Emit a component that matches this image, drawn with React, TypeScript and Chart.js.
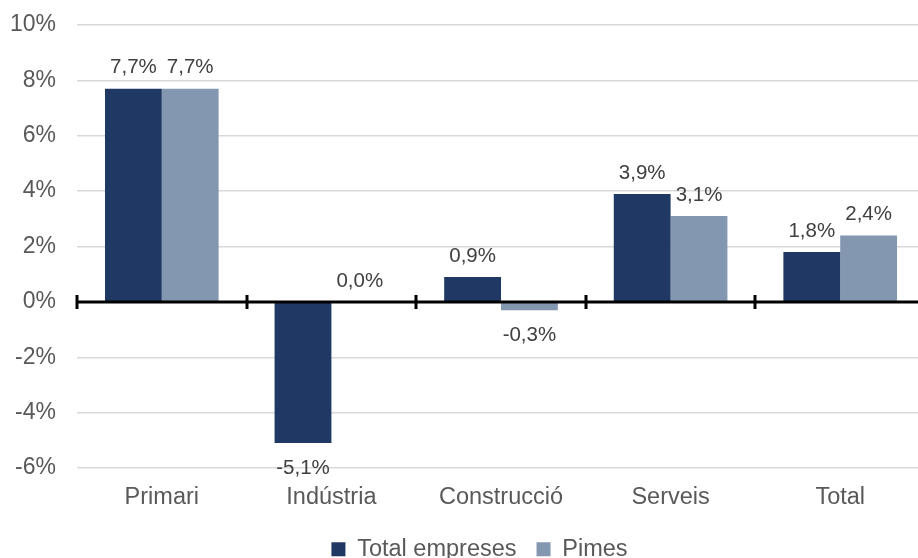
import React, { useEffect, useRef } from "react";
import { Chart, registerables } from "chart.js";

Chart.register(...registerables);

const categories = ["Primari", "Indústria", "Construcció", "Serveis", "Total"];
const totalEmpreses = [7.7, -5.1, 0.9, 3.9, 1.8];
const pimes = [7.7, 0.0, -0.3, 3.1, 2.4];
const seriesNames = ["Total empreses", "Pimes"];
const yMin = -6;
const yMax = 10;
const yStep = 2;

const DARK = "#203864";
const LIGHT = "#8497B0";
const FONT = "'Liberation Sans', Arial, sans-serif";

const fmt = (v: number) => v.toFixed(1).replace(".", ",") + "%";

const zeroLinePlugin = {
  id: "zeroLine",
  afterDatasetsDraw(chart: any) {
    const { ctx, chartArea, scales } = chart;
    const y0 = scales.y.getPixelForValue(0);
    const n = chart.data.labels.length;
    const w = (chartArea.right - chartArea.left) / n;
    ctx.save();
    ctx.strokeStyle = "#000";
    ctx.lineWidth = 3;
    ctx.beginPath();
    ctx.moveTo(chartArea.left, y0);
    ctx.lineTo(chartArea.right, y0);
    for (let i = 0; i <= n; i++) {
      const x = Math.round(chartArea.left + i * w);
      ctx.moveTo(x, y0 - 7);
      ctx.lineTo(x, y0 + 7);
    }
    ctx.stroke();
    ctx.restore();
  },
};

const labelsPlugin = {
  id: "valueLabels",
  afterDatasetsDraw(chart: any) {
    const { ctx } = chart;
    ctx.save();
    ctx.font = `20.5px ${FONT}`;
    ctx.fillStyle = "#404040";
    ctx.textAlign = "center";
    ctx.textBaseline = "middle";
    chart.data.datasets.forEach((ds: any, di: number) => {
      const meta = chart.getDatasetMeta(di);
      meta.data.forEach((el: any, i: number) => {
        const v = ds.data[i];
        const y = v >= 0 ? el.y - 21 : el.y + 25;
        ctx.fillText(fmt(v), el.x, y);
      });
    });
    ctx.restore();
  },
};

const legendShiftPlugin = {
  id: "legendShift",
  afterLayout(chart: any) {
    if (chart.legend) {
      chart.legend.left += 17;
      chart.legend.right += 17;
    }
  },
};

export default function App() {
  const ref = useRef<HTMLCanvasElement>(null);
  useEffect(() => {
    if (!ref.current) return;
    const chart = new Chart(ref.current, {
      type: "bar",
      data: {
        labels: categories,
        datasets: [
          { label: seriesNames[0], data: totalEmpreses, backgroundColor: DARK },
          { label: seriesNames[1], data: pimes, backgroundColor: LIGHT },
        ],
      },
      options: {
        animation: false,
        responsive: false,
        maintainAspectRatio: false,
        layout: { padding: { top: 25, right: 0, bottom: 0, left: 0 } },
        datasets: { bar: { categoryPercentage: 0.67, barPercentage: 1 } },
        plugins: {
          legend: {
            position: "bottom",
            labels: {
              font: { family: FONT, size: 23.5 },
              color: "#595959",
              boxWidth: 14,
              boxHeight: 14,
              padding: 20,
            },
          },
          tooltip: { enabled: false },
        },
        scales: {
          x: {
            grid: { display: false, drawTicks: false },
            border: { display: false },
            ticks: { font: { family: FONT, size: 23.5 }, color: "#595959", padding: 15 },
            afterFit(scale: any) {
              scale.height = 49.5;
            },
          },
          y: {
            min: yMin,
            max: yMax,
            ticks: {
              stepSize: yStep,
              callback: (v: any) => v + "%",
              font: { family: FONT, size: 23 },
              color: "#595959",
              padding: 0,
            },
            grid: {
              color: "#D9D9D9",
              lineWidth: 1.5,
              drawTicks: true,
              tickLength: 21,
              tickColor: "rgba(0,0,0,0)",
            },
            border: { display: false },
            afterFit(scale: any) {
              scale.width = 77;
            },
          },
        },
      },
      plugins: [zeroLinePlugin, labelsPlugin, legendShiftPlugin],
    });
    return () => chart.destroy();
  }, []);
  return (
    <div style={{ position: "fixed", left: 0, top: 0, width: 918, height: 558, overflow: "hidden", background: "#fff" }}>
      <canvas ref={ref} width={925} height={571} style={{ display: "block", width: 925, height: 571 }} />
    </div>
  );
}
